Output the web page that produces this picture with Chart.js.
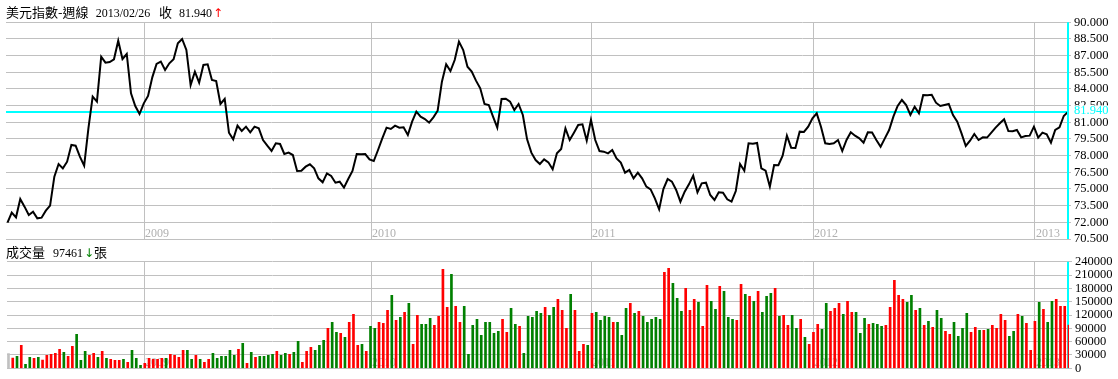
<!DOCTYPE html>
<html><head><meta charset="utf-8">
<script src="https://cdn.jsdelivr.net/npm/chart.js@4.4.1/dist/chart.umd.min.js"></script>
<style>
html,body{margin:0;padding:0;background:#fff;}
#wrap{position:relative;width:1118px;height:379px;overflow:hidden;background:#fff;}
canvas{position:absolute;left:0;}
#c1{top:0;} #c2{top:250px;}
.ttl{position:absolute;left:6px;white-space:nowrap;font-family:'Liberation Serif';font-size:12px;line-height:14px;color:#000;z-index:2;}
.ttl span{display:inline-block;line-height:14px;}
.cjk{font-family:'Noto Sans CJK TC';font-size:13px;}
.num{font-family:'Liberation Serif';font-size:12px;}
.arr{font-family:'DejaVu Sans';font-size:12px;}
</style></head>
<body><div id="wrap">
<canvas id="c1" width="1118" height="250" style="width:1118px;height:250px"></canvas>
<canvas id="c2" width="1118" height="129" style="width:1118px;height:129px"></canvas>
<div class="ttl" style="top:5px"><span class="cjk" style="width:89.7px">美元指數-週線</span><span class="num" style="width:63.3px" id="pDate"></span><span class="cjk" style="width:20px">收</span><span class="num" id="pLast"></span><span class="arr" style="color:#f00;margin-left:1px">↑</span></div>
<div class="ttl" style="top:244.5px"><span class="cjk" style="width:47px">成交量</span><span class="num" id="vLast"></span><span class="arr" style="color:#008000;margin-left:1px">↓</span><span class="cjk">張</span></div>
</div>
<script>
const lastDate = '2013/02/26';
const prices = [71.97,72.87,72.45,74.10,73.41,72.66,72.96,72.36,72.42,73.05,
73.50,76.11,77.25,76.86,77.46,78.96,78.90,77.91,77.10,80.46,
83.31,82.86,86.91,86.37,86.43,86.67,88.35,86.70,87.15,83.61,
82.47,81.75,82.71,83.37,85.05,86.25,86.46,85.71,86.31,86.67,
88.11,88.50,87.51,84.36,85.56,84.57,86.16,86.22,84.81,84.72,
82.65,83.10,80.07,79.47,80.70,80.22,80.61,80.10,80.61,80.46,
79.41,78.90,78.42,79.11,79.05,78.15,78.27,78.06,76.62,76.65,
77.01,77.22,76.86,75.96,75.60,76.41,76.17,75.57,75.66,75.12,
75.90,76.62,78.15,78.12,78.14,77.67,77.52,78.51,79.56,80.52,
80.40,80.70,80.52,80.55,79.86,81.06,81.96,81.51,81.30,80.97,
81.45,82.05,84.66,86.22,85.62,86.61,88.26,87.51,86.01,85.56,
84.75,84.06,82.65,82.56,81.51,80.52,83.10,83.12,82.86,82.11,
82.65,81.66,79.47,78.27,77.61,77.25,77.67,77.40,76.77,78.21,
78.60,80.46,79.41,80.07,80.76,80.82,79.35,81.21,79.41,78.42,
78.36,78.21,78.51,77.76,77.37,76.47,76.71,75.96,76.47,75.96,
75.21,74.97,74.16,73.17,75.00,75.90,75.66,74.91,73.86,74.76,
75.42,76.20,74.70,75.51,75.57,74.46,74.01,74.70,74.67,74.07,
73.86,74.82,77.25,76.65,79.11,79.08,79.14,76.86,76.65,75.21,
77.16,77.14,78.00,79.80,78.72,78.70,80.16,80.14,80.61,81.36,
81.81,80.61,79.11,79.05,79.11,79.41,78.42,79.41,80.10,79.80,
79.56,79.17,80.10,80.08,79.41,78.81,79.56,80.31,81.51,82.47,
83.01,82.56,81.66,82.41,81.81,83.46,83.44,83.48,82.77,82.47,
82.56,82.65,81.66,81.06,80.01,78.87,79.35,79.95,79.41,79.65,
79.63,80.07,80.52,80.91,81.27,80.22,80.20,80.31,79.65,79.77,
79.80,80.61,79.62,80.07,79.92,79.17,80.31,80.55,81.57,81.94];
const volumes = [33000,23250,27000,51750,9000,24750,22500,24750,18750,29250,
31500,33750,42750,36000,27000,49500,76500,18000,38250,29250,
33750,24750,38250,22500,20250,18000,18000,20250,13500,40500,
22500,6750,11250,22500,20250,20250,22500,22500,31500,29250,
24750,40500,40500,20250,29250,20250,13500,20250,33750,22500,
27000,27000,40500,29250,42750,56250,11250,36000,24750,27000,
27000,29250,31500,38250,29250,33750,31500,36000,60750,13500,
38250,47250,40500,51750,63000,90000,103500,81000,78750,69750,
103500,121500,51750,54000,38250,94500,90000,103500,101250,130500,
164250,108000,114750,126000,146250,54000,119250,99000,99000,112500,
96750,117000,222750,137250,211500,139500,103500,139500,31500,96750,
110250,74250,103500,103500,78750,83250,110250,81000,135000,99000,
94500,33750,117000,114750,128250,123750,137250,119250,137250,155250,
130500,90000,166500,130500,38250,54000,51750,123750,126000,108000,
117000,114750,103500,103500,74250,135000,146250,123750,128250,117000,
103500,110250,114750,110250,216000,225000,191250,157500,128250,180000,
130500,155250,148500,94500,186750,150750,132750,184500,173250,114750,
110250,108000,189000,166500,162000,150750,173250,126000,162000,168750,
180000,117000,119250,96750,119250,90000,110250,69750,54000,81000,
99000,87750,146250,128250,135000,146250,121500,150750,126000,126000,
78750,112500,99000,101250,99000,94500,96750,137250,198000,164250,
155250,148500,164250,130500,135000,96750,105750,92250,130500,112500,
83250,76500,103500,72000,90000,123750,81000,92250,85500,85500,
87750,96750,90000,121500,108000,72000,83250,121500,117000,101250,
40500,105750,148500,132750,103500,150750,155250,139500,139500,97461];
// n = unchanged (grey), r = up week (red), g = down week (green)
const barDirs = ('nrgrggrgrr'+'rrrgrrgggr'+'rgrgrrrgrg'+'ggrrrrrgrr'+'rrggrgrrgg'+
 'ggggrgrgrg'+'gggrggrggr'+'rrgggrggrg'+'rrrgrggrrr'+'grgrgrrggg'+
 'rrrrgrrggg'+'ggggggrrgg'+'rgggggrggr'+'rrgrrrgrgg'+'ggrgggrgrg'+
 'ggggrrgggr'+'rrgrrggrgg'+'grrgrgrggg'+'rgrrggrgrr'+'rggrrrgrrg'+
 'ggrgggrrrr'+'rggrgrgrgg'+'rrggggrrgr'+'grrrrggrgr'+'rrgrggrrrr').split('');
const yearLabels = ['2009','2010','2011','2012','2013'];
const yearTickIdx = [32.12, 85.35, 137.07, 189.2, 241.18];
const priceTicks = [70.5,72,73.5,75,76.5,78,79.5,81,82.5,84,85.5,87,88.5,90];
const volTicks = [0,30000,60000,90000,120000,150000,180000,210000,240000];

const colorOf = {n:'#c0c0c0', r:'#ff0000', g:'#008000'};
const lastClose = prices[prices.length-1];
document.getElementById('pDate').textContent = lastDate;
document.getElementById('pLast').textContent = lastClose.toFixed(3);
document.getElementById('vLast').textContent = String(volumes[volumes.length-1]);

const GRID = '#c0c0c0';
const tickFont = {family:'Liberation Serif', size:12.5};
const XMIN = -0.35, XMAX = prices.length - 1;

function yearLabelPlugin(){
  return {
    id:'yearLabels',
    beforeDatasetsDraw(chart){
      const {ctx, chartArea, scales} = chart;
      ctx.save();
      ctx.font = '12px "Liberation Serif"';
      ctx.fillStyle = '#b0b0b0';
      ctx.textBaseline = 'alphabetic';
      ctx.textAlign = 'left';
      scales.x.ticks.forEach((t, k) => {
        const x = scales.x.getPixelForValue(t.value);
        ctx.fillText(yearLabels[k], Math.round(x) + 1, chartArea.bottom - 2);
      });
      ctx.restore();
    }
  };
}

const pricePlugin = {
  id:'priceMarks',
  beforeDatasetsDraw(chart){
    const {ctx, chartArea, scales} = chart;
    const y = scales.y.getPixelForValue(lastClose);
    ctx.save();
    ctx.strokeStyle = '#00ffff'; ctx.lineWidth = 2;
    ctx.beginPath(); ctx.moveTo(chartArea.left, y); ctx.lineTo(chartArea.right, y); ctx.stroke();
    ctx.restore();
  },
  afterDatasetsDraw(chart){
    const {ctx, chartArea} = chart;
    ctx.save();
    ctx.strokeStyle = '#00ffff'; ctx.lineWidth = 2;
    ctx.beginPath(); ctx.moveTo(chartArea.right, chartArea.top); ctx.lineTo(chartArea.right, chartArea.bottom); ctx.stroke();
    ctx.restore();
  },
  afterDraw(chart){
    const {ctx, chartArea, scales} = chart;
    const y = scales.y.getPixelForValue(lastClose);
    ctx.save();
    ctx.fillStyle = '#fff';
    ctx.fillRect(chartArea.right + 4, y - 6.5, 60, 10.5);
    ctx.font = '12.5px "Liberation Serif"';
    ctx.fillStyle = '#00ffff';
    ctx.textAlign = 'left'; ctx.textBaseline = 'middle';
    ctx.fillText(lastClose.toFixed(3), chartArea.right + 6, y - 1);
    ctx.restore();
  }
};

const volPlugin = {
  id:'volMarks',
  beforeDatasetsDraw(chart){
    const {ctx, chartArea} = chart;
    ctx.save();
    ctx.strokeStyle = '#00ffff'; ctx.lineWidth = 2;
    ctx.beginPath(); ctx.moveTo(chartArea.right - 1, chartArea.top); ctx.lineTo(chartArea.right - 1, chartArea.bottom); ctx.stroke();
    ctx.restore();
  }
};

const common = {
  responsive:false, animation:false, devicePixelRatio:1,
  plugins:{legend:{display:false}, tooltip:{enabled:false}, title:{display:false}}
};

new Chart(document.getElementById('c1'), {
  type:'line',
  data:{datasets:[{
    data: prices.map((v,i)=>({x:i, y:v})),
    borderColor:'#000', borderWidth:2, pointRadius:0, tension:0, clip:false,
    borderJoinStyle:'miter'
  }]},
  options:Object.assign({}, common, {
    layout:{padding:{left:6, top:22.33, right:0, bottom:11}},
    scales:{
      x:{type:'linear', min:XMIN, max:XMAX,
        afterBuildTicks:s=>{ s.ticks = yearTickIdx.map(v=>({value:v})); },
        ticks:{display:false}, grid:{color:GRID, drawTicks:false, lineWidth:1},
        border:{display:false}, afterFit:s=>{ s.height = 0; }},
      y:{position:'right', min:70.5, max:90,
        afterBuildTicks:s=>{ s.ticks = priceTicks.map(v=>({value:v})); },
        ticks:{callback:v=>Number(v).toFixed(3), font:tickFont, color:'#000', padding:3, autoSkip:false},
        grid:{color:GRID, tickLength:3, tickColor:GRID, lineWidth:1},
        border:{display:false}, afterFit:s=>{ s.width = 50; }}
    }
  }),
  plugins:[yearLabelPlugin(), pricePlugin]
});

const volShift = (XMAX - XMIN) / 1062;
new Chart(document.getElementById('c2'), {
  type:'bar',
  data:{datasets:[{
    data: volumes.map((v,i)=>({x:i, y:v})),
    backgroundColor: barDirs.map(d=>colorOf[d]),
    barThickness:2, borderWidth:0
  }]},
  options:Object.assign({}, common, {
    layout:{padding:{left:7, top:11.67, right:0, bottom:10.67}},
    scales:{
      x:{type:'linear', min:XMIN, max:XMAX, offset:false,
        afterBuildTicks:s=>{ s.ticks = yearTickIdx.map(v=>({value:v - volShift})); },
        ticks:{display:false}, grid:{color:GRID, drawTicks:false, lineWidth:1, offset:false},
        border:{display:false}, afterFit:s=>{ s.height = 0; }},
      y:{position:'right', min:0, max:240000,
        afterBuildTicks:s=>{ s.ticks = volTicks.map(v=>({value:v})); },
        ticks:{callback:v=>String(v), font:tickFont, color:'#000', padding:3, autoSkip:false},
        grid:{color:GRID, tickLength:3, tickColor:GRID, lineWidth:1},
        border:{display:false}, afterFit:s=>{ s.width = 49; }}
    }
  }),
  plugins:[yearLabelPlugin(), volPlugin]
});
</script>
</body></html>
